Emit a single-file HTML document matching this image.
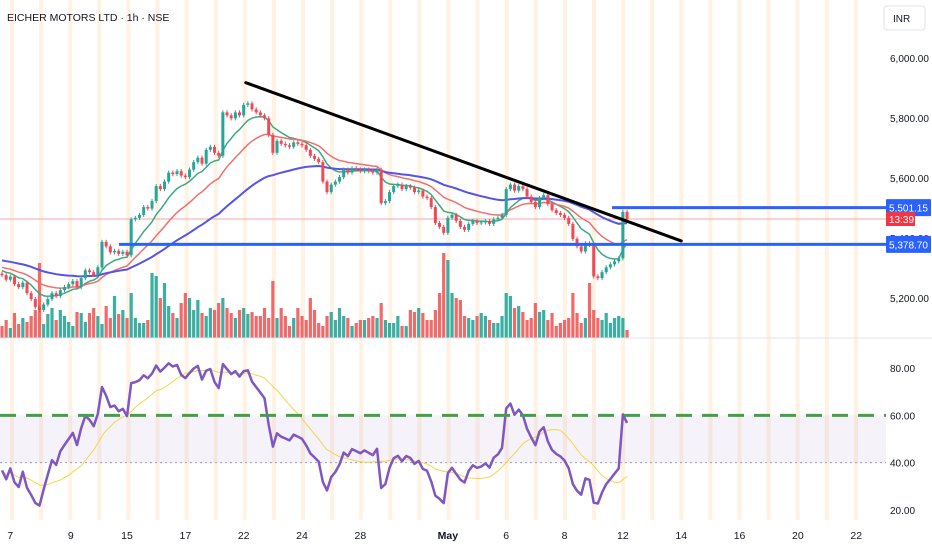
<!DOCTYPE html>
<html><head><meta charset="utf-8"><style>
html,body{margin:0;padding:0;background:#fff;width:932px;height:550px;overflow:hidden;font-family:"Liberation Sans",sans-serif}
svg{display:block}
text{font-family:"Liberation Sans",sans-serif}
</style></head><body>
<svg id="chart" width="932" height="550" viewBox="0 0 932 550" xmlns="http://www.w3.org/2000/svg">
<g id="stripes"></g>
<g id="volume"></g>
<line x1="0" y1="219" x2="886" y2="219" stroke="#f7a5ab" stroke-width="1"/>
<g id="emas"></g>
<g id="candles"></g>
<g id="drawings"></g>
<line x1="0" y1="338" x2="932" y2="338" stroke="#e0e3eb" stroke-width="1"/>
<g id="rsi"></g>
<g id="axis"></g>
<g id="xaxis"></g>
<text x="7" y="21" font-size="10.5" fill="#131722">EICHER MOTORS LTD · 1h · NSE</text>
<rect x="884" y="6" width="41" height="24" rx="3" fill="#fff" stroke="#e0e3eb"/>
<text x="893" y="22" font-size="10" fill="#131722">INR</text>
</svg>
<script>
const closes=[5276,5261,5271,5246,5236,5251,5216,5196,5170,5160,
5178,5196,5216,5206,5226,5236,5246,5256,5236,5266,
5292,5286,5276,5302,5387,5372,5352,5357,5347,5354,
5342,5462,5467,5477,5503,5498,5523,5573,5563,5588,
5618,5613,5623,5608,5603,5628,5653,5668,5648,5694,
5704,5684,5674,5819,5809,5799,5819,5809,5844,5849,
5829,5819,5809,5799,5744,5684,5724,5714,5709,5704,
5719,5714,5709,5694,5674,5664,5653,5588,5553,5578,
5588,5603,5628,5618,5633,5628,5623,5628,5623,5618,
5628,5516,5523,5553,5573,5578,5563,5573,5568,5553,
5558,5538,5533,5503,5450,5437,5417,5467,5477,5457,
5437,5427,5447,5457,5450,5452,5457,5447,5462,5467,
5477,5563,5578,5558,5573,5563,5538,5520,5503,5533,
5543,5513,5493,5483,5477,5467,5447,5397,5372,5355,
5382,5377,5272,5266,5286,5302,5312,5322,5332,5487,5462];
const volumes=[12,18,10,25,14,20,16,22,28,75,
14,24,30,18,28,22,16,12,26,25,
16,25,30,22,14,32,20,42,24,28,
20,45,20,15,15,18,65,62,40,55,
32,25,20,35,45,40,28,38,25,22,
30,28,35,40,30,25,20,28,30,24,
26,22,22,30,20,57,20,30,22,12,
20,30,22,18,40,28,15,12,22,26,
18,30,22,20,12,15,18,18,20,22,
20,35,18,15,15,22,12,12,28,26,
30,25,18,18,28,45,85,78,45,40,
38,22,20,18,22,25,22,18,15,15,
22,45,42,30,32,26,18,20,35,26,
28,18,25,12,15,18,20,45,25,15,
20,55,28,20,18,25,15,20,22,20,8];
const priceTicks=[6000,5800,5600,5400,5200];
const rsiTicks=[80,60,40,20];
const dateLabels=["7","9","15","17","22","24","28","May","6","8","12","14","16","20","22"];
const dateBars=[2,16.5,30,44,58,72,86,107,121,135,149,163,177,191,205];
const emaSeeds=[5295,5305,5327];
const emaPeriods=[9,20,50];
const hLevels=[5501.15,5378.70];
const trendPts=[[58.5,5918],[163,5390]];

const NS="http://www.w3.org/2000/svg";
const X0=2, DX=4.167;
const xOf=i=>X0+i*DX;
const yP=p=>178+(5600-p)*0.2998;
const yR=v=>368+(80-v)*2.367;
const volBase=338;
function mk(tag,attrs,parent){const e=document.createElementNS(NS,tag);for(const k in attrs)e.setAttribute(k,attrs[k]);parent.appendChild(e);return e;}
const G=id=>document.getElementById(id);
const fmt=v=>v.toLocaleString('en-US',{minimumFractionDigits:2,maximumFractionDigits:2});

for(let x=12;x<870;x+=29.1){
  const r=mk('rect',{x:x-2,y:0,width:4,height:520,fill:'rgba(255,190,110,0.2)'},G('stripes'));
  
  
}
closes.forEach((c,i)=>{
  const o=i?closes[i-1]:c+5;
  const up=c>=o;
  const h=volumes[i];
  const r=mk('rect',{x:xOf(i)-1.6,y:volBase-h,width:3.2,height:h,fill:up?'#26a69a':'#f05a5a',opacity:0.9},G('volume'));
  
  
});
const emaColors=['#3ea883','#ef6f6c','#5454e8'];
const emaWidths=[1.5,1.5,2];
emaPeriods.forEach((n,k)=>{
  let e=emaSeeds[k];const a=2/(n+1);let d='';
  closes.forEach((c,i)=>{e=e+a*(c-e);d+=(i?'L':'M')+xOf(i).toFixed(1)+','+yP(e).toFixed(1);});
  const p=mk('path',{d:d,fill:'none',stroke:emaColors[k],'stroke-width':emaWidths[k]},G('emas'));
  
  
});
closes.forEach((c,i)=>{
  const o=i?closes[i-1]:c+5;
  const up=c>=o;const col=up?'#26a69a':'#ef4a55';
  const hi=Math.max(o,c)+7, lo=Math.min(o,c)-7;
  const g=mk('g',{},G('candles'));
  
  
  mk('line',{x1:xOf(i),x2:xOf(i),y1:yP(hi),y2:yP(lo),stroke:col,'stroke-width':1},g);
  const top=yP(Math.max(o,c)),bot=yP(Math.min(o,c));
  mk('rect',{x:xOf(i)-1.5,y:top,width:3,height:Math.max(1,bot-top),fill:col},g);
});
const tl=mk('line',{x1:xOf(trendPts[0][0]),y1:yP(trendPts[0][1]),x2:xOf(trendPts[1][0]),y2:yP(trendPts[1][1]),stroke:'#000','stroke-width':3,'stroke-linecap':'round'},G('drawings'));


const starts=[612,119];
hLevels.forEach((v,k)=>{
  const l=mk('line',{x1:starts[k],x2:886,y1:yP(v),y2:yP(v),stroke:'#2962ff','stroke-width':3},G('drawings'));
  
  
});
const rg=G('rsi');
const band=mk('rect',{x:0,y:yR(60),width:886,height:yR(40)-yR(60),fill:'rgba(126,87,194,0.08)'},rg);


const mid=mk('line',{x1:0,x2:886,y1:yR(40),y2:yR(40),stroke:'#9aa0ab','stroke-width':1,'stroke-dasharray':'2,3'},rg);


let ag=4,al=6.5;const rsi=[];
closes.forEach((c,i)=>{
  const d=i?c-closes[i-1]:-5;
  ag=(ag*13+Math.max(d,0))/14; al=(al*13+Math.max(-d,0))/14;
  rsi.push(100-100/(1+ag/al));
});
const sma=rsi.map((v,i)=>{const s=rsi.slice(Math.max(0,i-13),i+1);return s.reduce((a,b)=>a+b,0)/s.length;});
let d1='',d2='';
rsi.forEach((v,i)=>{d1+=(i?'L':'M')+xOf(i).toFixed(1)+','+yR(v).toFixed(1);d2+=(i?'L':'M')+xOf(i).toFixed(1)+','+yR(sma[i]).toFixed(1);});
const sl=mk('path',{d:d2,fill:'none',stroke:'#f5d547','stroke-width':1},rg);


const rl=mk('path',{d:d1,fill:'none',stroke:'#7e57c2','stroke-width':2.5,'stroke-linejoin':'round'},rg);


const gl=mk('line',{x1:0,x2:886,y1:yR(60),y2:yR(60),stroke:'#43a047','stroke-width':3,'stroke-dasharray':'16,10'},rg);


const ax=G('axis');
priceTicks.forEach(p=>{
  const t=mk('text',{x:890,y:yP(p)+4,'font-size':10,fill:'#131722'},ax);t.textContent=fmt(p);
  
  
});
rsiTicks.forEach(v=>{
  const t=mk('text',{x:890,y:yR(v)+4,'font-size':10,fill:'#131722'},ax);t.textContent=fmt(v);
  
  
});
hLevels.forEach(v=>{
  const y=yP(v);
  const b=mk('rect',{x:886,y:y-8.5,width:45,height:17,fill:'#2962ff',rx:1},ax);
  
  
  const t=mk('text',{x:889,y:y+4,'font-size':10,fill:'#fff'},ax);t.textContent=fmt(v);
  
  
});
const cb=mk('rect',{x:886,y:212,width:29,height:14,fill:'#f23645'},ax);


const ct=mk('text',{x:889,y:223,'font-size':10,fill:'#fff'},ax);ct.textContent='13:39';


dateLabels.forEach((s,k)=>{
  const t=mk('text',{x:xOf(dateBars[k]),y:539,'font-size':10.5,fill:'#131722','text-anchor':'middle','font-weight':s==='May'?'bold':'normal'},G('xaxis'));
  t.textContent=s;
  
  
});
</script>
</body></html>
